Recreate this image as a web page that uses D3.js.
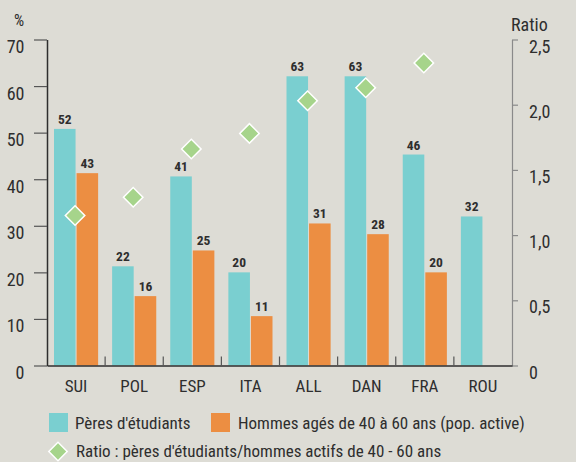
<!DOCTYPE html>
<html>
<head>
<meta charset="utf-8">
<script src="https://cdn.jsdelivr.net/npm/d3@7"></script>
<style>
  body { margin: 0; background: #dddcd5; }
  svg { display: block; font-family: "Roboto Condensed", "DejaVu Sans Condensed", sans-serif; }
</style>
</head>
<body>
<div id="chart"></div>
<script>
"use strict";

// == DATA ==
var countries = ["SUI", "POL", "ESP", "ITA", "ALL", "DAN", "FRA", "ROU"];
var peres = [50.8, 21.3, 40.6, 20.0, 62.1, 62.1, 45.3, 32.0];
var peresLabels = ["52", "22", "41", "20", "63", "63", "46", "32"];
var hommes = [41.3, 14.9, 24.7, 10.6, 30.5, 28.2, 20.0, null];
var hommesLabels = ["43", "16", "25", "11", "31", "28", "20", ""];
var ratio = [1.15, 1.29, 1.66, 1.78, 2.03, 2.13, 2.32, null];
var leftTicks = [0, 10, 20, 30, 40, 50, 60, 70];
var rightTicks = [0, 0.5, 1, 1.5, 2, 2.5];
var rightTickLabels = ["0", "0,5", "1,0", "1,5", "2,0", "2,5"];

var teal = "#7acfd0", orange = "#ec8e42", green = "#a6d48b", ink = "#2e2e2e";
var font = "'Roboto Condensed', sans-serif";

var width = 576, height = 462;
var svg = d3.select("#chart").append("svg")
  .attr("width", width).attr("height", height);

var x = d3.scaleBand().domain(countries).range([47, 512]);
var inner = d3.scaleBand().domain(["p", "h"]).range([7, x.bandwidth() - 7]).paddingInner(0.045);
var y = d3.scaleLinear().domain([0, 70]).range([365.5, 39.5]);
var yr = d3.scaleLinear().domain([0, 2.5]).range([365.5, 39.5]);

// bars
var rows = countries.map(function(c, i) {
  return { c: c, p: peres[i], pl: peresLabels[i], h: hommes[i], hl: hommesLabels[i], r: ratio[i] };
});

var g = svg.selectAll("g.country").data(rows).enter().append("g")
  .attr("transform", function(d) { return "translate(" + x(d.c) + ",0)"; });

g.append("rect")
  .attr("x", inner("p")).attr("width", inner.bandwidth())
  .attr("y", function(d) { return y(d.p); })
  .attr("height", function(d) { return y(0) - y(d.p); })
  .attr("fill", teal);

g.filter(function(d) { return d.h != null; }).append("rect")
  .attr("x", inner("h")).attr("width", inner.bandwidth())
  .attr("y", function(d) { return y(d.h); })
  .attr("height", function(d) { return y(0) - y(d.h); })
  .attr("fill", orange);

g.append("text")
  .attr("x", inner("p") + inner.bandwidth() / 2)
  .attr("y", function(d) { return y(d.p) - 5; })
  .attr("text-anchor", "middle").attr("font-size", 13.5).attr("font-weight", "bold")
  .attr("fill", ink)
  .text(function(d) { return d.pl; });

g.filter(function(d) { return d.h != null; }).append("text")
  .attr("x", inner("h") + inner.bandwidth() / 2)
  .attr("y", function(d) { return y(d.h) - 5; })
  .attr("text-anchor", "middle").attr("font-size", 13.5).attr("font-weight", "bold")
  .attr("fill", ink)
  .text(function(d) { return d.hl; });

// left axis
var axL = svg.append("g").attr("transform", "translate(47,0)")
  .call(d3.axisLeft(y).tickValues(leftTicks).tickSize(13).tickSizeOuter(0).tickPadding(10));
axL.select(".domain").attr("stroke", ink).attr("stroke-width", 1.5);
axL.selectAll(".tick line").attr("stroke", "#555").attr("stroke-width", 1.2);
axL.selectAll(".tick text").attr("font-size", 18).attr("fill", ink)
  .attr("font-family", font)
  .attr("dy", 13).attr("x", -22.5);

// right axis
var axR = svg.append("g").attr("transform", "translate(512,0)")
  .call(d3.axisRight(yr).tickValues(rightTicks).tickSize(6).tickSizeOuter(0).tickPadding(11)
    .tickFormat(function(d, i) { return rightTickLabels[i]; }));
axR.select(".domain").attr("stroke", "#8a8a8a").attr("stroke-width", 1.2);
axR.selectAll(".tick line").attr("stroke", "#8a8a8a").attr("stroke-width", 1.2);
axR.selectAll(".tick text").attr("font-size", 18).attr("fill", ink)
  .attr("font-family", font)
  .attr("dy", 12.5);

// bottom axis
var axB = svg.append("g").attr("transform", "translate(0,365.5)")
  .call(d3.axisBottom(x).tickSize(0).tickPadding(14));
axB.select(".domain").attr("stroke", ink).attr("stroke-width", 1.5);
axB.selectAll(".tick text").attr("font-size", 17).attr("fill", ink)
  .attr("font-family", font);

// separators between countries
svg.selectAll("line.sep").data(countries.slice(1)).enter().append("line")
  .attr("x1", function(d) { return x(d); }).attr("x2", function(d) { return x(d); })
  .attr("y1", y(0) - 9).attr("y2", y(0))
  .attr("stroke", "#555").attr("stroke-width", 1.2);

// ratio diamonds
var diamond = d3.symbol().type(d3.symbolSquare).size(190);
svg.selectAll("path.ratio").data(rows.filter(function(d) { return d.r != null; }))
  .enter().append("path")
  .attr("d", diamond)
  .attr("transform", function(d) {
    return "translate(" + (x(d.c) + x.bandwidth() / 2 - 1) + "," + yr(d.r) + ") rotate(45)";
  })
  .attr("fill", green).attr("stroke", "#fff").attr("stroke-width", 1.5);

// axis titles
svg.append("text").attr("x", 14).attr("y", 26).attr("font-size", 16).attr("fill", ink).text("%");
svg.append("text").attr("x", 511).attr("y", 30.5).attr("font-size", 18).attr("fill", ink).text("Ratio");

// legend
svg.append("rect").attr("x", 49).attr("y", 413).attr("width", 19).attr("height", 19).attr("fill", teal);
svg.append("text").attr("x", 75).attr("y", 429).attr("font-size", 17).attr("fill", ink).text("Pères d'étudiants");
svg.append("rect").attr("x", 211).attr("y", 413).attr("width", 19).attr("height", 19).attr("fill", orange);
svg.append("text").attr("x", 238).attr("y", 429).attr("font-size", 17).attr("fill", ink)
  .text("Hommes agés de 40 à 60 ans (pop. active)");
svg.append("path").attr("d", d3.symbol().type(d3.symbolSquare).size(170))
  .attr("transform", "translate(58,451.5) rotate(45)")
  .attr("fill", green).attr("stroke", "#fff").attr("stroke-width", 1.5);
svg.append("text").attr("x", 76).attr("y", 457).attr("font-size", 17).attr("fill", ink)
  .text("Ratio : pères d'étudiants/hommes actifs de 40 - 60 ans");
</script>
</body>
</html>
